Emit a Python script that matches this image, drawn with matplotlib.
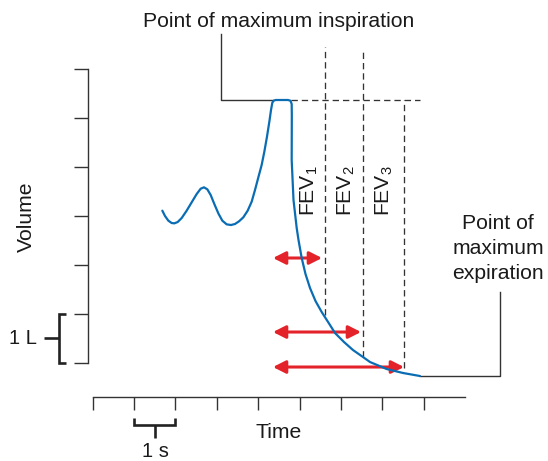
import matplotlib
matplotlib.use("Agg")
import matplotlib.pyplot as plt
from matplotlib.patches import FancyArrowPatch

plt.rcParams["font.family"] = ["Liberation Sans", "DejaVu Sans"]
plt.rcParams["mathtext.fontset"] = "custom"
plt.rcParams["mathtext.rm"] = "Liberation Sans"
plt.rcParams["mathtext.it"] = "Liberation Sans:italic"

# Spirogram trace: time (s) vs volume (L)
time_s = [1.683, 1.748, 1.828, 1.909, 1.973, 2.054, 2.151, 2.271, 2.392, 2.513,
          2.610, 2.690, 2.771, 2.852, 2.940, 3.037, 3.133, 3.238, 3.343, 3.440,
          3.536, 3.641, 3.746, 3.843, 3.923, 4.004, 4.084, 4.149, 4.213, 4.270,
          4.310, 4.342, 4.374, 4.423, 4.721, 4.781, 4.810, 4.813, 4.810, 4.854,
          4.931, 4.975, 5.052, 5.144, 5.253, 5.386, 5.535, 5.736, 5.857, 6.074,
          6.292, 6.534, 6.703, 7.107, 7.501, 7.912]
volume_l = [3.106, 2.997, 2.902, 2.854, 2.847, 2.874, 2.956, 3.106, 3.276, 3.446,
            3.555, 3.583, 3.542, 3.426, 3.242, 3.051, 2.902, 2.827, 2.813, 2.834,
            2.888, 2.970, 3.106, 3.290, 3.528, 3.787, 4.039, 4.311, 4.618, 4.924,
            5.162, 5.312, 5.353, 5.367, 5.367, 5.352, 5.285, 5.060, 4.141, 3.324,
            2.752, 2.507, 2.139, 1.812, 1.526, 1.260, 1.036, 0.770, 0.607, 0.423,
            0.259, 0.116, 0.014, -0.129, -0.210, -0.272]

max_volume = 5.367
max_time_end = 7.912
min_volume = -0.272

# FEV markers
fev_labels = ["1", "2", "3"]
fev_times = [5.608, 6.534, 7.525]
fev_tops = [6.45, 6.41, 5.368]
fev_bottoms = [0.975, 0.116, -0.108]
fev_label_times = [5.24, 6.12, 7.05]
arrow_start = 4.358
arrow_volumes = [2.139, 0.627, -0.088]
arrow_ends = [5.543, 6.486, 7.525]

time_ticks = list(range(0, 9))
volume_ticks = list(range(0, 7))

INK = "#333333"
TXT = "#1a1a1a"
BLUE = "#0a6db4"
RED = "#e4222a"

fig = plt.figure(figsize=(5.48, 4.61), dpi=100)
ax = fig.add_axes([0, 0, 1, 1])
ax.set_xlim(-2.241, 11.006)
ax.set_ylim(-2.008, 7.41)
ax.patch.set_alpha(0)

for side in ("top", "right"):
    ax.spines[side].set_visible(False)
ax.spines["left"].set_position(("data", -0.106))
ax.spines["left"].set_bounds(0, 6)
ax.spines["bottom"].set_position(("data", -0.695))
ax.spines["bottom"].set_bounds(0, 9)
for side in ("left", "bottom"):
    ax.spines[side].set_color(INK)
    ax.spines[side].set_linewidth(1.0)
ax.set_xticks(time_ticks)
ax.set_yticks(volume_ticks)
ax.tick_params(axis="x", direction="out", length=9.6, width=1.0, color=INK,
               labelbottom=False)
ax.tick_params(axis="y", direction="out", length=10.3, width=1.0, color=INK,
               labelleft=False)

# dashed guides
dash = dict(color=INK, lw=0.95, linestyle=(0, (4.8, 3.0)))
ax.plot([4.79, max_time_end], [max_volume, max_volume], **dash)
for t, top, bot in zip(fev_times, fev_tops, fev_bottoms):
    ax.plot([t, t], [bot, top], **dash)

# FEV arrows
for v, end in zip(arrow_volumes, arrow_ends):
    ax.add_patch(FancyArrowPatch((arrow_start, v), (end, v),
                                 arrowstyle="<|-|>,head_length=7.5,head_width=3.8",
                                 mutation_scale=1, lw=2.2, color=RED,
                                 shrinkA=0, shrinkB=0, zorder=3))

# trace
ax.plot(time_s, volume_l, color=BLUE, lw=1.6, zorder=4, solid_capstyle="round",
        solid_joinstyle="round")

# callout lines
ax.plot([3.094, 3.094, 4.36], [6.709, max_volume, max_volume], color=INK, lw=1.0)
ax.plot([max_time_end, 9.845, 9.845], [min_volume, min_volume, 1.436],
        color=INK, lw=1.0)

fs = 15.2
ax.text(4.49, 6.852, "Point of maximum inspiration", ha="center", va="baseline",
        fontsize=fs, color=TXT)
for line, v in zip(["Point of", "maximum", "expiration"], [2.725, 2.222, 1.71]):
    ax.text(9.80, v, line, ha="center", va="baseline", fontsize=fs, color=TXT)

for lab, t in zip(fev_labels, fev_label_times):
    ax.text(t, 2.99, "FEV$_{%s}$" % lab, rotation=90, ha="center", va="bottom",
            fontsize=fs, color=TXT)

ax.text(4.503, -1.544, "Time", ha="center", va="baseline", fontsize=fs, color=TXT)
ax.text(-1.595, 2.983, "Volume", rotation=90, ha="center", va="center",
        fontsize=fs, color=TXT)

# scale brackets
br = dict(color="#222222", lw=1.9, solid_capstyle="butt", solid_joinstyle="miter")
ax.plot([-0.653, -0.815, -0.815, -0.653], [1.0, 1.0, 0.0, 0.0], **br)
ax.plot([-1.170, -0.815], [0.5, 0.5], **br)
ax.text(-1.697, 0.376, "1 L", ha="center", va="baseline", fontsize=14.5, color=TXT)

ax.plot([1.0, 1.0, 2.0, 2.0], [-1.136, -1.279, -1.279, -1.136], **br)
ax.plot([1.5, 1.5], [-1.279, -1.538], **br)
ax.text(1.506, -1.933, "1 s", ha="center", va="baseline", fontsize=14.5, color=TXT)

fig.savefig("out.png", dpi=100, facecolor="white")
